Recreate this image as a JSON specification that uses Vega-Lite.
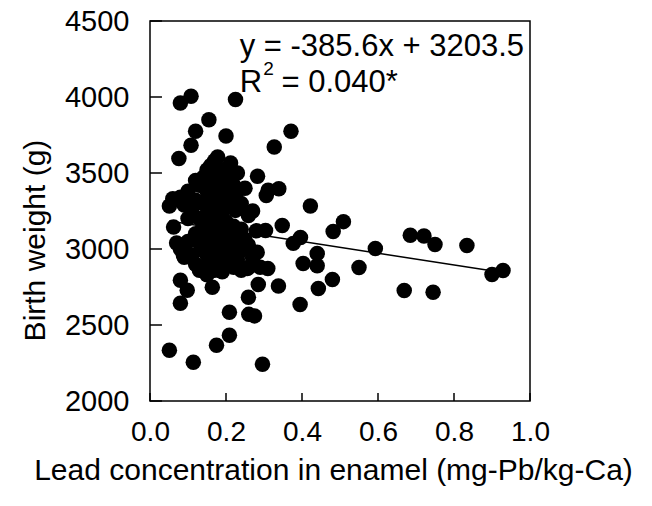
{
  "$schema": "https://vega.github.io/schema/vega-lite/v6.json",
  "width": 380,
  "height": 380,
  "autosize": {"type": "none"},
  "padding": {"left": 150, "top": 21, "right": 122, "bottom": 105},
  "background": "white",
  "config": {
    "font": "Liberation Sans",
    "view": {"stroke": "#000", "strokeWidth": 1.5},
    "axis": {"grid": false, "domain": false, "ticks": false, "labelFlush": false, "labelOverlap": false, "labelColor": "#000", "titleColor": "#000", "labelFont": "Liberation Sans", "titleFont": "Liberation Sans", "labelFontSize": 28, "titleFontSize": 30, "titleFontWeight": "normal"}
  },
  "datasets": {
    "points": [
      {"lead": 0.080, "bw": 3961}, {"lead": 0.108, "bw": 4005}, {"lead": 0.225, "bw": 3983}, {"lead": 0.155, "bw": 3851},
      {"lead": 0.120, "bw": 3775}, {"lead": 0.200, "bw": 3743}, {"lead": 0.108, "bw": 3682}, {"lead": 0.076, "bw": 3595},
      {"lead": 0.371, "bw": 3774}, {"lead": 0.327, "bw": 3671}, {"lead": 0.178, "bw": 3605}, {"lead": 0.212, "bw": 3566},
      {"lead": 0.283, "bw": 3478}, {"lead": 0.339, "bw": 3397}, {"lead": 0.311, "bw": 3386}, {"lead": 0.051, "bw": 3283},
      {"lead": 0.422, "bw": 3283}, {"lead": 0.062, "bw": 3144}, {"lead": 0.085, "bw": 3024}, {"lead": 0.088, "bw": 2959},
      {"lead": 0.080, "bw": 2794}, {"lead": 0.098, "bw": 2728}, {"lead": 0.080, "bw": 2643}, {"lead": 0.164, "bw": 2748},
      {"lead": 0.051, "bw": 2334}, {"lead": 0.114, "bw": 2255}, {"lead": 0.175, "bw": 2367}, {"lead": 0.209, "bw": 2432},
      {"lead": 0.296, "bw": 2242}, {"lead": 0.209, "bw": 2584}, {"lead": 0.260, "bw": 2570}, {"lead": 0.275, "bw": 2560},
      {"lead": 0.259, "bw": 2682}, {"lead": 0.285, "bw": 2767}, {"lead": 0.338, "bw": 2756}, {"lead": 0.395, "bw": 2635},
      {"lead": 0.443, "bw": 2740}, {"lead": 0.480, "bw": 2800}, {"lead": 0.403, "bw": 2905}, {"lead": 0.440, "bw": 2970},
      {"lead": 0.440, "bw": 2890}, {"lead": 0.482, "bw": 3115}, {"lead": 0.509, "bw": 3180}, {"lead": 0.348, "bw": 3155},
      {"lead": 0.396, "bw": 3076}, {"lead": 0.377, "bw": 3037}, {"lead": 0.304, "bw": 3122}, {"lead": 0.310, "bw": 2872},
      {"lead": 0.256, "bw": 2872}, {"lead": 0.259, "bw": 3024}, {"lead": 0.282, "bw": 2978}, {"lead": 0.306, "bw": 3352},
      {"lead": 0.259, "bw": 3220}, {"lead": 0.225, "bw": 3254}, {"lead": 0.593, "bw": 3003}, {"lead": 0.550, "bw": 2878},
      {"lead": 0.685, "bw": 3090}, {"lead": 0.721, "bw": 3085}, {"lead": 0.750, "bw": 3030}, {"lead": 0.834, "bw": 3023},
      {"lead": 0.669, "bw": 2727}, {"lead": 0.745, "bw": 2715}, {"lead": 0.900, "bw": 2832}, {"lead": 0.929, "bw": 2858},
      {"lead": 0.060, "bw": 3330}, {"lead": 0.080, "bw": 3340}, {"lead": 0.090, "bw": 3290}, {"lead": 0.080, "bw": 3000},
      {"lead": 0.090, "bw": 2945}, {"lead": 0.100, "bw": 3050}, {"lead": 0.100, "bw": 3200}, {"lead": 0.110, "bw": 3260},
      {"lead": 0.110, "bw": 2960}, {"lead": 0.120, "bw": 3320}, {"lead": 0.120, "bw": 3100}, {"lead": 0.120, "bw": 2900},
      {"lead": 0.130, "bw": 3420}, {"lead": 0.130, "bw": 3200}, {"lead": 0.130, "bw": 3040}, {"lead": 0.130, "bw": 2860},
      {"lead": 0.140, "bw": 3470}, {"lead": 0.140, "bw": 3300}, {"lead": 0.140, "bw": 3150}, {"lead": 0.140, "bw": 2990},
      {"lead": 0.140, "bw": 2880}, {"lead": 0.150, "bw": 3520}, {"lead": 0.150, "bw": 3380}, {"lead": 0.150, "bw": 3230},
      {"lead": 0.150, "bw": 3100}, {"lead": 0.150, "bw": 2960}, {"lead": 0.150, "bw": 2830}, {"lead": 0.160, "bw": 3550},
      {"lead": 0.160, "bw": 3440}, {"lead": 0.160, "bw": 3280}, {"lead": 0.160, "bw": 3160}, {"lead": 0.160, "bw": 3020},
      {"lead": 0.160, "bw": 2920}, {"lead": 0.170, "bw": 3580}, {"lead": 0.170, "bw": 3350}, {"lead": 0.170, "bw": 3200},
      {"lead": 0.170, "bw": 3070}, {"lead": 0.170, "bw": 2950}, {"lead": 0.170, "bw": 2860}, {"lead": 0.180, "bw": 3480},
      {"lead": 0.180, "bw": 3300}, {"lead": 0.180, "bw": 3130}, {"lead": 0.180, "bw": 3000}, {"lead": 0.180, "bw": 2900},
      {"lead": 0.190, "bw": 3520}, {"lead": 0.190, "bw": 3400}, {"lead": 0.190, "bw": 3240}, {"lead": 0.190, "bw": 3080},
      {"lead": 0.190, "bw": 2960}, {"lead": 0.190, "bw": 2850}, {"lead": 0.200, "bw": 3450}, {"lead": 0.200, "bw": 3320},
      {"lead": 0.200, "bw": 3180}, {"lead": 0.200, "bw": 3020}, {"lead": 0.200, "bw": 2900}, {"lead": 0.210, "bw": 3500},
      {"lead": 0.210, "bw": 3380}, {"lead": 0.210, "bw": 3100}, {"lead": 0.210, "bw": 2970}, {"lead": 0.220, "bw": 3420},
      {"lead": 0.220, "bw": 3300}, {"lead": 0.220, "bw": 3150}, {"lead": 0.220, "bw": 3000}, {"lead": 0.220, "bw": 2880},
      {"lead": 0.230, "bw": 3380}, {"lead": 0.230, "bw": 3050}, {"lead": 0.230, "bw": 2930}, {"lead": 0.240, "bw": 3300},
      {"lead": 0.240, "bw": 3130}, {"lead": 0.240, "bw": 2990}, {"lead": 0.240, "bw": 2860}, {"lead": 0.250, "bw": 3060},
      {"lead": 0.260, "bw": 2880}, {"lead": 0.270, "bw": 2940}, {"lead": 0.280, "bw": 3120}, {"lead": 0.290, "bw": 2880},
      {"lead": 0.250, "bw": 3400}, {"lead": 0.230, "bw": 3500}, {"lead": 0.120, "bw": 3450}, {"lead": 0.270, "bw": 3250},
      {"lead": 0.100, "bw": 3380}, {"lead": 0.070, "bw": 3040}
    ],
    "fit": [
      {"lead": 0.05, "bw": 3184.2},
      {"lead": 0.92, "bw": 2848.7}
    ],
    "yticks": [{"t": 2000}, {"t": 2500}, {"t": 3000}, {"t": 3500}, {"t": 4000}, {"t": 4500}],
    "xticks": [{"t": 0}, {"t": 0.2}, {"t": 0.4}, {"t": 0.6}, {"t": 0.8}, {"t": 1.0}]
  },
  "layer": [
    {
      "data": {"name": "fit"},
      "mark": {"type": "line", "color": "#000", "strokeWidth": 1.5},
      "encoding": {
        "x": {"field": "lead", "type": "quantitative", "scale": {"domain": [0, 1], "nice": false},
          "axis": {"values": [0, 0.2, 0.4, 0.6, 0.8, 1.0], "format": ".1f", "labelPadding": 17,
            "title": "Lead concentration in enamel (mg-Pb/kg-Ca)", "titleX": 183, "titleY": 69, "titleBaseline": "middle"}},
        "y": {"field": "bw", "type": "quantitative", "scale": {"domain": [2000, 4500], "nice": false, "zero": false},
          "axis": {"values": [2000, 2500, 3000, 3500, 4000, 4500], "format": "d", "labelPadding": 21, "labelFontSize": 29,
            "title": "Birth weight (g)", "titleX": -115, "titleY": 219, "titleBaseline": "middle", "titleAngle": -90}}
      }
    },
    {
      "data": {"name": "yticks"},
      "mark": {"type": "rule", "color": "#000", "strokeWidth": 1.5},
      "encoding": {"y": {"field": "t", "type": "quantitative"}, "x": {"datum": 0}, "x2": {"datum": 0.0315}}
    },
    {
      "data": {"name": "xticks"},
      "mark": {"type": "rule", "color": "#000", "strokeWidth": 1.5},
      "encoding": {"x": {"field": "t", "type": "quantitative"}, "y": {"datum": 2000}, "y2": {"datum": 2052}}
    },
    {
      "data": {"name": "points"},
      "mark": {"type": "circle", "color": "#000", "opacity": 1, "size": 240},
      "encoding": {
        "x": {"field": "lead", "type": "quantitative"},
        "y": {"field": "bw", "type": "quantitative"}
      }
    },
    {
      "data": {"values": [{}]},
      "mark": {"type": "text", "text": "y = -385.6x + 3203.5", "align": "left", "baseline": "alphabetic", "fontSize": 31, "font": "Liberation Sans", "color": "#000"},
      "encoding": {"x": {"datum": 0.236}, "y": {"datum": 4268}}
    },
    {
      "data": {"values": [{}]},
      "mark": {"type": "text", "text": "R", "align": "left", "baseline": "alphabetic", "fontSize": 31, "font": "Liberation Sans", "color": "#000"},
      "encoding": {"x": {"datum": 0.236}, "y": {"datum": 4031}}
    },
    {
      "data": {"values": [{}]},
      "mark": {"type": "text", "text": "2", "align": "left", "baseline": "alphabetic", "fontSize": 19, "font": "Liberation Sans", "color": "#000"},
      "encoding": {"x": {"datum": 0.298}, "y": {"datum": 4145}}
    },
    {
      "data": {"values": [{}]},
      "mark": {"type": "text", "text": "= 0.040*", "align": "left", "baseline": "alphabetic", "fontSize": 31, "font": "Liberation Sans", "color": "#000"},
      "encoding": {"x": {"datum": 0.346}, "y": {"datum": 4031}}
    }
  ]
}
